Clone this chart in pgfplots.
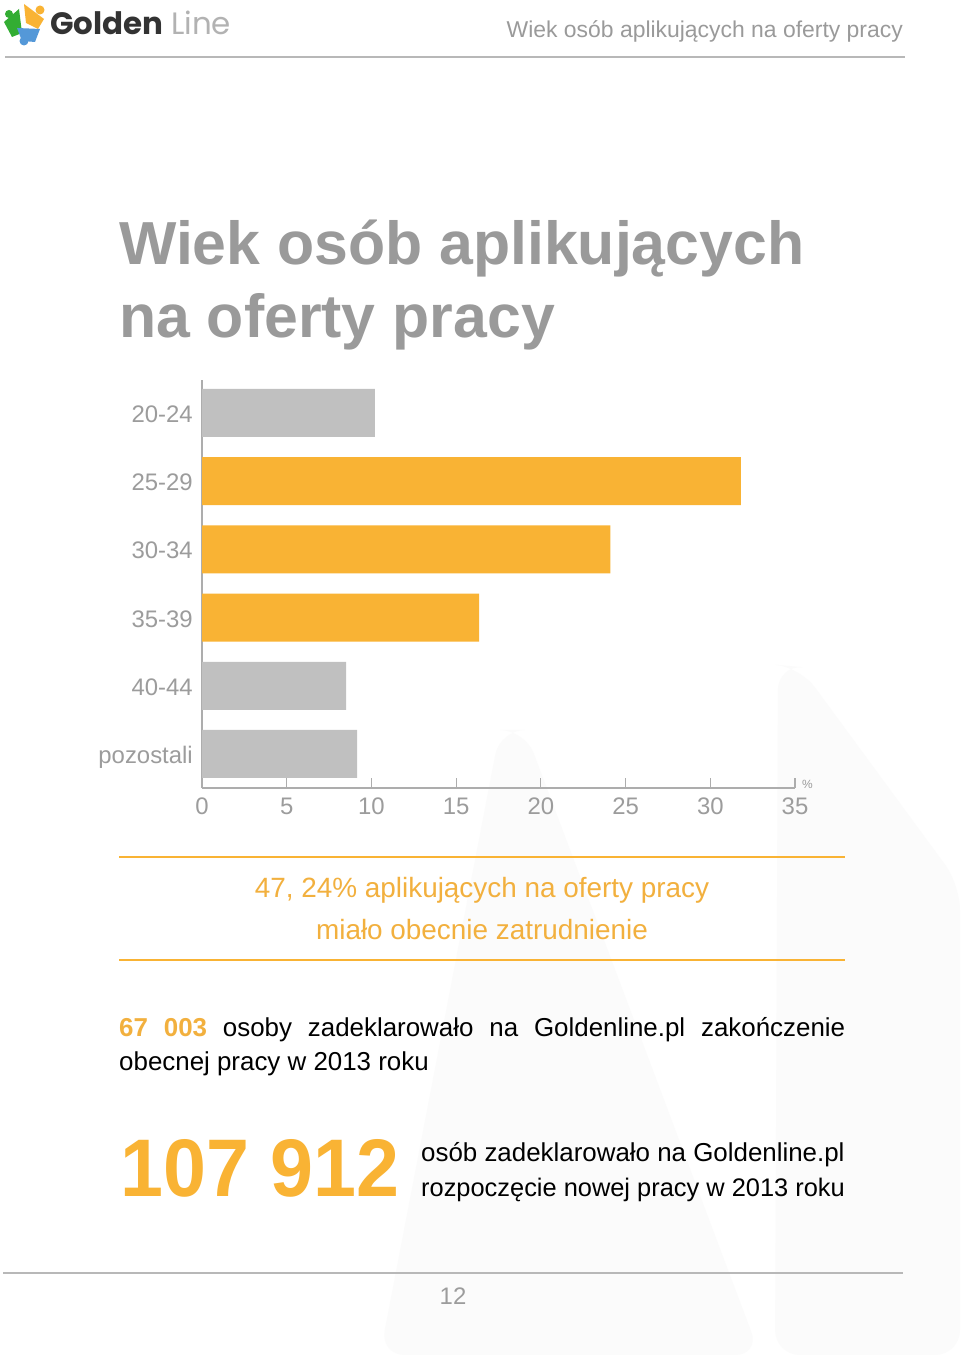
\documentclass[border=0pt]{standalone}
\usepackage{pgfplots}
\pgfplotsset{compat=1.18}
\usepackage{fontspec}
\setmainfont{Liberation Sans}
\newfontfamily\logofont{Poppins}
\definecolor{barorange}{HTML}{F9B334}
\definecolor{txtorange}{HTML}{F2B03E}
\definecolor{bargray}{HTML}{C0C0C0}
\definecolor{titlegray}{HTML}{9A9A9A}
\definecolor{tickgray}{HTML}{9C9C9C}
\definecolor{axisgray}{HTML}{ADADAD}
\definecolor{rulegray}{HTML}{B8B8B8}
\definecolor{wm}{HTML}{FBFBFB}
\newcommand{\fs}[1]{\fontsize{#1}{#1}\selectfont}
\begin{document}
\begin{tikzpicture}[x=1bp,y=1bp]
\useasboundingbox (0,0) rectangle (960,1355);
\fill[white] (0,0) rectangle (960,1355);
% faint watermark shapes
\fill[wm, rounded corners=25] (775,0) -- (778,690) -- (800,688) -- (960,470) -- (960,0) -- cycle;
\fill[wm, rounded corners=25] (380,0) -- (500,625) -- (525,625) -- (760,0) -- cycle;
% logo icon
\fill[green!60!black!80] (4,1333) -- (19,1346) -- (22,1322) -- (12,1318) -- cycle;
\fill[green!60!black!80] (9,1341) circle (4);
\fill[barorange] (24,1351) -- (44,1336) -- (38,1326) -- (26,1332) -- cycle;
\fill[barorange] (40,1345) circle (4.5);
\fill[cyan!60!blue!70] (17,1327) -- (40,1326) -- (35,1313) -- (22,1314) -- cycle;
\fill[cyan!60!blue!70] (24,1314) circle (4.5);
\node[anchor=base west,inner sep=0] at (50,1320) {\logofont\fs{31}\bfseries\color{black!80}Golden};
\node[anchor=base west,inner sep=0] at (171,1320) {\logofont\fs{31}\color{black!30}Line};
% header
\node[anchor=base east,inner sep=0] at (903,1317) {\fs{23}\color{titlegray}Wiek osób aplikujących na oferty pracy};
\draw[rulegray,line width=1.2] (5,1298) -- (905,1298);
% title
\node[anchor=base west,inner sep=0] at (119,1090) {\fs{61}\bfseries\color{titlegray}Wiek osób aplikujących};
\node[anchor=base west,inner sep=0] at (119,1017) {\fs{61}\bfseries\color{titlegray}na oferty pracy};
% chart
\begin{axis}[
  at={(202bp,567bp)}, anchor=south west,
  scale only axis, width=593bp, height=408bp,
  xbar, bar width=48bp, bar shift=0pt,
  xmin=0, xmax=35, ymin=-0.4985, ymax=5.484,
  ytick={0,1,2,3,4,5},
  yticklabels={pozostali,40-44,35-39,30-34,25-29,20-24},
  xtick={0,5,...,35},
  axis x line*=bottom, axis y line*=left,
  axis line style={draw=axisgray,line width=1.2pt,-},
  tick align=inside, major tick length=10bp,
  xtick style={draw=axisgray,line width=1.2pt},
  ytick style={draw=none},
  /pgf/number format/assume math mode=true,
  xticklabel style={font=\fs{24}, text=tickgray, inner sep=0pt, anchor=north, yshift=-10bp},
  yticklabel style={font=\fs{24}, text=tickgray, inner sep=0pt, anchor=base east, xshift=-9bp, yshift=-9.5bp},
  clip=false,
]
\addplot[fill=bargray,draw=none] coordinates {(9.15,0) (8.5,1) (10.2,5)};
\addplot[fill=barorange,draw=none] coordinates {(16.35,2) (24.1,3) (31.8,4)};
\end{axis}
\node[anchor=base west,inner sep=0] at (802,566) {\fs{12}\color{tickgray}\%};
% orange box
\draw[barorange,line width=2.2] (119,498) -- (845,498);
\draw[barorange,line width=2.2] (119,395) -- (845,395);
\node[anchor=base,inner sep=0] at (482,457) {\fs{28}\color{txtorange}47, 24\% aplikujących na oferty pracy};
\node[anchor=base,inner sep=0] at (482,415) {\fs{28}\color{txtorange}miało obecnie zatrudnienie};
% paragraph
\node[anchor=base west,inner sep=0] at (119,318) {\fs{26}\makebox[726bp][s]{{\bfseries\color{txtorange}67 003} osoby zadeklarowało na Goldenline.pl zakończenie}};
\node[anchor=base west,inner sep=0] at (119,284) {\fs{26}obecnej pracy w 2013 roku};
% big number
\node[anchor=base west,inner sep=0] at (120,158) {\scalebox{0.945}[1]{\fs{82}\bfseries\color{barorange}107 912}};
\node[anchor=base west,inner sep=0] at (421,193) {\fs{26}osób zadeklarowało na Goldenline.pl};
\node[anchor=base west,inner sep=0] at (421,158) {\fs{25.5}rozpoczęcie nowej pracy w 2013 roku};
% footer
\draw[rulegray,line width=1.2] (3,82) -- (903,82);
\node[anchor=base,inner sep=0] at (453,50) {\fs{24}\color{tickgray}12};
\end{tikzpicture}
\end{document}
